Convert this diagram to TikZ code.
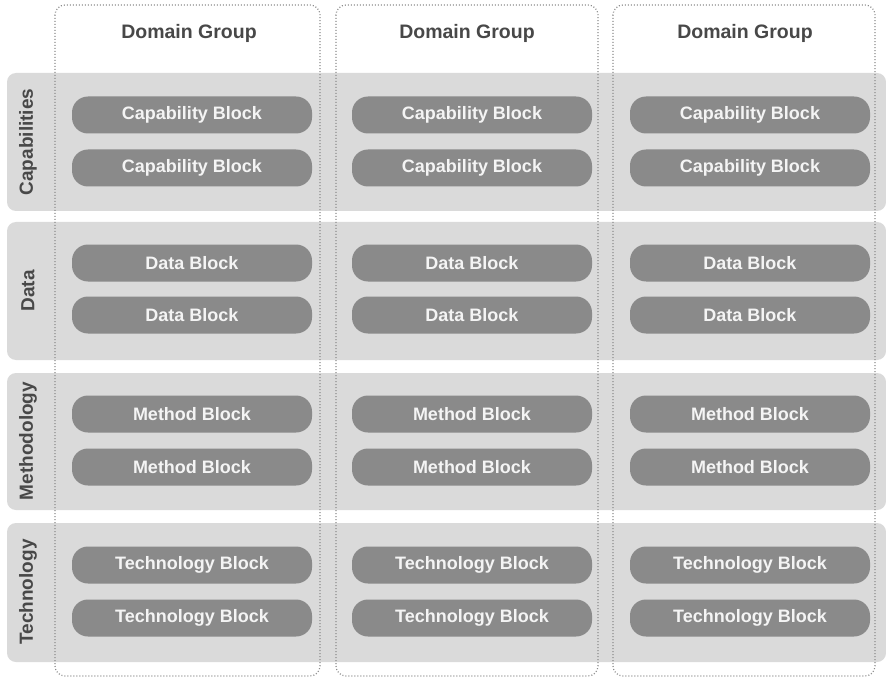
\documentclass[tikz,border=0pt]{standalone}
\usepackage{fontspec}
\setmainfont{Liberation Sans}
\begin{document}
\begin{tikzpicture}[x=1pt,y=-1pt,
  band/.style={fill=bandgray, draw=none, rounded corners=9pt},
  group/.style={draw=dotgray, line width=1.2pt, dash pattern=on 1pt off 2pt, rounded corners=10pt},
  block/.style={fill=blockgray, draw=none, rounded corners=16pt, minimum width=240pt, minimum height=37pt,
    text=blocktext, font=\fontsize{18}{20}\selectfont\bfseries, inner sep=0pt},
  grouplabel/.style={text=labeltext, font=\fontsize{19.5}{22}\selectfont\bfseries, inner sep=0pt},
  bandlabel/.style={text=labeltext, font=\fontsize{19}{22}\selectfont\bfseries, inner sep=0pt, rotate=90}
]
\definecolor{bandgray}{HTML}{DADADA}
\definecolor{blockgray}{HTML}{8A8A8A}
\definecolor{blocktext}{HTML}{F4F4F4}
\definecolor{labeltext}{HTML}{484848}
\definecolor{dotgray}{HTML}{8C8C8C}
\useasboundingbox[fill=white] (0,0) rectangle (886,679);

% horizontal bands
\fill[band] (7,73) rectangle (886,211);
\fill[band] (7,222) rectangle (886,360);
\fill[band] (7,373) rectangle (886,510);
\fill[band] (7,523) rectangle (886,662);

\node[bandlabel] (lcap) at (28,142) {Capabilities};
\node[bandlabel] (ldata) at (28,291) {Data};
\node[bandlabel] (lmeth) at (28,441) {Methodology};
\node[bandlabel] (ltech) at (28,592) {Technology};

% dotted domain group outlines
\draw[group] (55,5) rectangle (320,676);
\draw[group] (336,5) rectangle (598,676);
\draw[group] (613,5) rectangle (875,676);

\node[grouplabel] (g1) at (189,33) {Domain Group};
\node[grouplabel] (g2) at (467,33) {Domain Group};
\node[grouplabel] (g3) at (745,33) {Domain Group};

% blocks per group column
\foreach \cx/\c in {192/a,472/b,750/c}{
  \node[block] (cap1\c) at (\cx,115) {Capability Block};
  \node[block] (cap2\c) at (\cx,168) {Capability Block};
  \node[block] (dat1\c) at (\cx,263) {Data Block};
  \node[block] (dat2\c) at (\cx,315) {Data Block};
  \node[block] (met1\c) at (\cx,414) {Method Block};
  \node[block] (met2\c) at (\cx,467) {Method Block};
  \node[block] (tec1\c) at (\cx,565) {Technology Block};
  \node[block] (tec2\c) at (\cx,618) {Technology Block};
}
\end{tikzpicture}
\end{document}
